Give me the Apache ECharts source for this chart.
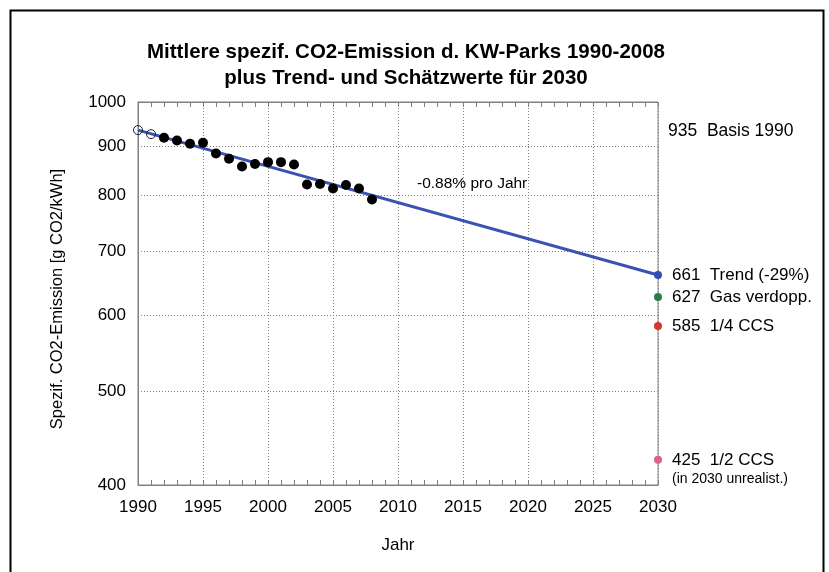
<!DOCTYPE html>
<html>
<head>
<meta charset="utf-8">
<script src="https://cdn.jsdelivr.net/npm/echarts@6/dist/echarts.min.js"></script>
<style>
html,body{margin:0;padding:0;background:#fff;}
#chart{width:829px;height:572px;}
</style>
</head>
<body>
<div id="chart"></div>
<script>
// ---- data ----
var openYears = [1990, 1991];
var openValues = [935, 926];
var dotYears = [1992, 1993, 1994, 1995, 1996, 1997, 1998, 1999, 2000, 2001, 2002, 2003, 2004, 2005, 2006, 2007, 2008];
var dotValues = [918, 912, 905, 907, 884, 873, 857, 862, 866, 866, 861, 821, 822, 813, 820, 813, 792];
var trendYears = [1990, 2030];
var trendValues = [935, 661];
var scenarioYear = 2030;
var scenarioValues = [661, 627, 585, 425];
var scenarioNames = ['Trend (-29%)', 'Gas verdopp.', '1/4 CCS', '1/2 CCS'];
var scenarioNote = '(in 2030 unrealist.)';
var baseValue = 935;
var baseName = 'Basis 1990';
var yTicks = [400, 500, 600, 700, 800, 900, 1000];
var titleLines = ['Mittlere spezif. CO2-Emission d. KW-Parks 1990-2008', 'plus Trend- und Schätzwerte für 2030'];
var slopeText = '-0.88% pro Jahr';
var yName = 'Spezif. CO2-Emission [g CO2/kWh]';
var xName = 'Jahr';

var scenarioColors = ['#2f4fb3', '#2a7d46', '#d2382b', '#d9628f'];
var FONT = 'Liberation Sans, Arial, sans-serif';

function zip(xs, ys) { return xs.map(function (x, i) { return [x, ys[i]]; }); }

var chart = echarts.init(document.getElementById('chart'));
var option = {
  backgroundColor: '#ffffff',
  animation: false,
  textStyle: { fontFamily: FONT },
  title: {
    text: titleLines.join('\n'),
    left: 401, textAlign: 'center', top: 34,
    textStyle: { fontFamily: FONT, fontSize: 20.5, fontWeight: 'bold', color: '#000', lineHeight: 26 }
  },
  grid: { left: 138, right: 171, top: 102, bottom: 87, show: true, borderColor: '#808080', borderWidth: 1, backgroundColor: 'transparent' },
  xAxis: [{
    type: 'value', min: 1990, max: 2030, interval: 5,
    name: xName, nameLocation: 'middle', nameGap: 52,
    nameTextStyle: { fontFamily: FONT, fontSize: 17, color: '#000' },
    axisLine: { show: true, lineStyle: { color: '#808080', width: 1 } },
    axisTick: { show: true, inside: true, length: 5, lineStyle: { color: '#808080' } },
    minorTick: { show: true, splitNumber: 5, length: 5, lineStyle: { color: '#808080' } },
    axisLabel: { fontFamily: FONT, fontSize: 17, color: '#000', margin: 14, formatter: function (v) { return String(v); } },
    splitLine: { show: true, lineStyle: { color: '#808080', type: [1, 2], width: 1 } }
  }, {
    type: 'value', min: 1990, max: 2030, interval: 5, position: 'top',
    axisLine: { show: true, lineStyle: { color: '#808080', width: 1 } },
    axisTick: { show: true, inside: true, length: 5, lineStyle: { color: '#808080' } },
    minorTick: { show: true, splitNumber: 5, length: 5, lineStyle: { color: '#808080' } },
    axisLabel: { show: false },
    splitLine: { show: false }
  }],
  yAxis: {
    type: 'log', logBase: 10, min: 400, max: 1000,
    name: yName, nameLocation: 'middle', nameGap: 72, nameRotate: 90,
    nameTextStyle: { fontFamily: FONT, fontSize: 16.5, color: '#000', padding: [0, 11, 0, 0] },
    axisLine: { show: true, lineStyle: { color: '#808080', width: 1 } },
    axisTick: { show: false, customValues: yTicks },
    axisLabel: { fontFamily: FONT, fontSize: 17, color: '#000', margin: 12, customValues: yTicks, formatter: function (v) { return String(Math.round(v)); } },
    splitLine: { show: true, lineStyle: { color: '#808080', type: [1, 2], width: 1 } }
  },
  series: [
    {
      type: 'line', name: 'Trend', data: zip(trendYears, trendValues),
      showSymbol: false, symbol: 'none',
      lineStyle: { color: '#3a52b2', width: 3 }, z: 2
    },
    {
      type: 'scatter', name: 'Daten', data: zip(dotYears, dotValues),
      symbol: 'circle', symbolSize: 10, clip: false,
      itemStyle: { color: '#000', opacity: 1 }, z: 3
    },
    {
      type: 'scatter', name: 'Basis', data: zip(openYears, openValues),
      symbol: 'circle', symbolSize: 9, clip: false,
      itemStyle: { color: 'rgba(255,255,255,0)', borderColor: '#222', borderWidth: 1, opacity: 1 }, z: 4
    },
    {
      type: 'scatter', name: 'Basislabel', data: [[scenarioYear, baseValue]],
      symbolSize: 0, silent: true, clip: false,
      itemStyle: { opacity: 1, color: '#000' },
      label: { show: true, position: 'right', distance: 10, offset: [0, 1], fontFamily: FONT, fontSize: 17.5, color: '#000', opacity: 1,
        formatter: function () { return baseValue + '  ' + baseName; } }
    },
    {
      type: 'scatter', name: 'Szenarien', clip: false,
      data: scenarioValues.map(function (v, i) {
        var d = { value: [scenarioYear, v], itemStyle: { color: scenarioColors[i], opacity: 1 } };
        if (i === 3) {
          d.label = { offset: [0, 9] };
        }
        return d;
      }),
      symbol: 'circle', symbolSize: 8, z: 5,
      label: {
        show: true, position: 'right', distance: 10, fontFamily: FONT, fontSize: 17, color: '#000',
        formatter: function (p) {
          var i = p.dataIndex;
          var s = '{a|' + scenarioValues[i] + '  ' + scenarioNames[i] + '}';
          if (i === 3) s += '\n{b|' + scenarioNote + '}';
          return s;
        },
        rich: {
          a: { fontFamily: FONT, fontSize: 17, color: '#000', lineHeight: 20 },
          b: { fontFamily: FONT, fontSize: 14, color: '#000', lineHeight: 17 }
        }
      }
    }
  ],
  graphic: [
    { type: 'rect', left: 8, top: 8, shape: { width: 813, height: 600 }, style: { fill: 'none', stroke: '#000', lineWidth: 2 }, silent: true },
    { type: 'text', left: 417, top: 176, style: { text: slopeText, fontFamily: FONT, fontSize: 15.5, fill: '#000' }, silent: true }
  ]
};
chart.setOption(option);
</script>
</body>
</html>
